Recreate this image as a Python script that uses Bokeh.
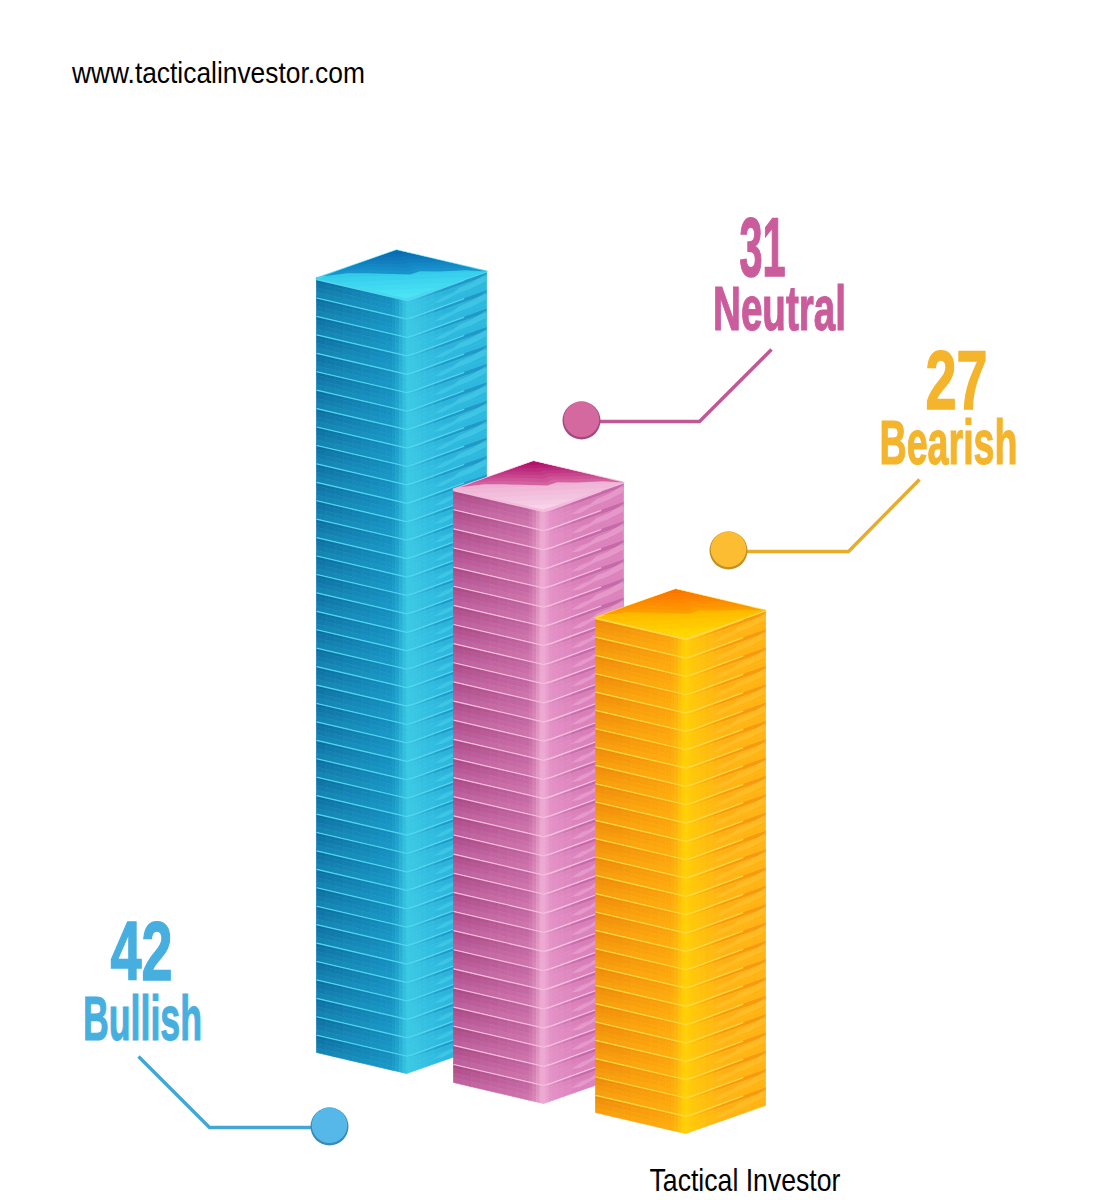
from bokeh.plotting import figure, curdoc
from bokeh.embed import file_html
from bokeh.resources import INLINE
from bokeh.core.properties import value
from bokeh.models import CustomJS

# ---- data ----
categories = ["Bullish", "Neutral", "Bearish"]
values = [42, 31, 27]
source_label = "www.tacticalinvestor.com"
credit_label = "Tactical Investor"

# ---- layout (reference pixel space) ----
W, H = 1101, 1200
BAR_LEFT = [316, 453, 595]
BAR_BOTTOM = [1052, 1082, 1112]
LAYER_H = [18.43, 19.13, 18.33]
D_FRONT = (90, 21)      # left corner -> front corner
D_BACK = (80, -28)      # left corner -> back corner

PAL = {
    "Bullish": dict(lt="#0c6a9c", lb="#1586b4", mt="#138cbe", mb="#1a9ac8", c="#38c8e4", dk="#085a8a",
                    rn="#3ccbe6", rft="#1a8cbe", rfb="#2db8de", wisp="#4ccfe9", lip="#4fd6ee",
                    back="#0a6ab2", mid="#1894cc", f1="#34cbea", f2="#4ae4f6", text="#47afe0", dot="#55b8e8"),
    "Neutral": dict(lt="#a8457f", lb="#c061a0", mt="#bf619e", mb="#d077ae", c="#f2b4d8", dk="#8a2a68",
                    rn="#e596c9", rft="#bb5ea0", rfb="#dc82bc", wisp="#ecacd6", lip="#f4bcdc",
                    back="#b00f6b", mid="#d4629f", f1="#eeb0d4", f2="#f7d2e8", text="#cb5c9b", dot="#d4699f"),
    "Bearish": dict(lt="#ec860a", lb="#f8a00e", mt="#fa9f0c", mb="#ffae0e", c="#ffd406", dk="#d56f04",
                    rn="#ffcc08", rft="#f4900c", rfb="#ffb414", wisp="#ffc433", lip="#ffd83f",
                    back="#fb7400", mid="#ff9c00", f1="#ffb800", f2="#ffd800", text="#f4b42c", dot="#fdbd33"),
}
WAVE = [(.04, -2), (.18, -4), (.30, -3), (.40, -2), (.55, 0), (.61, -3), (.72, -2), (.88, -2)]
WISP = [(.34, .70), (.48, .54), (.58, .54), (.66, .36), (.82, .32), (1, .12), (1, .5), (.8, .64), (.62, .66), (.46, .80)]

VALUE_FONT_PX, LABEL_FONT_PX, NOTE_FONT_PX = 84, 63, 29
CALLOUTS = {
    "Bullish": dict(dot=(329, 1126), xs=[329, 209, 138], ys=[1127, 1127, 1056],
                    vx=141, vy=950, lx=142, ly=1018),
    "Neutral": dict(dot=(581, 420), xs=[581, 699, 771], ys=[421, 421, 349],
                    vx=762, vy=246, lx=779, ly=308),
    "Bearish": dict(dot=(728, 550), xs=[728, 848, 919], ys=[551, 551, 479],
                    vx=956, vy=379, lx=948, ly=441),
}
# rendered width of each text in the picture (the lettering is condensed)
TEXT_W = {"42": (62, 1.6), "31": (46, 1.6), "27": (62, 1.6),
          "Bullish": (119, 1.2), "Neutral": (133, 1.2), "Bearish": (138, 1.2),
          source_label: (294, 0), credit_label: (191, 0)}


def rgb(c):
    return [int(c[i:i + 2], 16) for i in (1, 3, 5)]


def mix(a, b, t):
    A, B = rgb(a), rgb(b)
    return "#%02x%02x%02x" % tuple(round(A[i] + (B[i] - A[i]) * t) for i in range(3))


p = figure(width=W, height=H, x_range=(0, W), y_range=(H, 0),
           output_backend="svg", toolbar_location=None, min_border=0,
           background_fill_color="white", border_fill_color="white", outline_line_color=None)
p.xaxis.visible = False
p.yaxis.visible = False
p.grid.visible = False

VS = [0, .25, .5, .75, 1]
LEFT_US = [0, .1, .2, .3, .4, .5, .6, .7, .78, .84, .88, .92, .96, 1]
RIGHT_US = [0, .03, .07, .12, .18, .25, .35, .45, .6, .8, 1]

for k, cat in enumerate(categories):
    pal = PAL[cat]
    n = values[k]
    h = LAYER_H[k]
    lx, by = BAR_LEFT[k], BAR_BOTTOM[k]

    for i in range(n):
        y0 = by - (i + 1) * h   # top of this slab at the left corner
        L = (lx, y0)
        F = (lx + D_FRONT[0], y0 + D_FRONT[1])
        R = (F[0] + D_BACK[0], F[1] + D_BACK[1])

        def pt(A, B, u, v):
            return (A[0] + (B[0] - A[0]) * u, A[1] + (B[1] - A[1]) * u + v * h)

        xs, ys, cols = [], [], []

        def add(q, col):
            xs.append([a for a, _ in q])
            ys.append([b for _, b in q])
            cols.append(col)

        for a in range(len(LEFT_US) - 1):
            for b in range(len(VS) - 1):
                u, v = (LEFT_US[a] + LEFT_US[a + 1]) / 2, (VS[b] + VS[b + 1]) / 2
                top = mix(pal["lt"], pal["mt"], min(u / .82, 1))
                bot = mix(pal["lb"], pal["mb"], min(u / .82, 1))
                col = mix(top, bot, v)
                if u > .82:
                    col = mix(col, pal["c"], ((u - .82) / .18) ** 1.5)
                add([pt(L, F, LEFT_US[a], VS[b]), pt(L, F, LEFT_US[a + 1], VS[b]),
                     pt(L, F, LEFT_US[a + 1], VS[b + 1]), pt(L, F, LEFT_US[a], VS[b + 1])], col)
        for a in range(len(RIGHT_US) - 1):
            for b in range(len(VS) - 1):
                u, v = (RIGHT_US[a] + RIGHT_US[a + 1]) / 2, (VS[b] + VS[b + 1]) / 2
                far = mix(pal["rft"], pal["rfb"], min(v * 2.4, 1))
                col = mix(pal["rn"], far, min(u * 2.2, 1))
                if u < .1:
                    col = mix(col, pal["c"], .7 * (1 - u / .1))
                add([pt(F, R, RIGHT_US[a], VS[b]), pt(F, R, RIGHT_US[a + 1], VS[b]),
                     pt(F, R, RIGHT_US[a + 1], VS[b + 1]), pt(F, R, RIGHT_US[a], VS[b + 1])], col)
        p.patches(xs, ys, fill_color=cols, line_color=cols, line_width=.7)

        wisp = [pt(F, R, u, v) for u, v in WISP]
        p.patch([q[0] for q in wisp], [q[1] for q in wisp], fill_color=pal["wisp"], fill_alpha=.55, line_color=None)
        # shadow just above this slab's lip, then the lip itself
        if i > -1:
            p.line([L[0], F[0] - 8], [L[1] - .9, F[1] - 2.9], line_color=pal["dk"], line_width=1.5, line_alpha=.7)
        M = pt(F, R, .72, 0)
        p.line([L[0], F[0] - 7, F[0], F[0] + 7, M[0]],
               [L[1] + .9, F[1] - .8, F[1] + .9, F[1] - .8, M[1] + .7],
               line_color=pal["lip"], line_width=1.7, line_join="round")

    # top face
    y0 = by - n * h
    L = (lx, y0)
    A = (lx + D_BACK[0], y0 + D_BACK[1])
    F = (lx + D_FRONT[0], y0 + D_FRONT[1])
    R = (F[0] + D_BACK[0], F[1] + D_BACK[1])
    p.patch([L[0], A[0], R[0], F[0]], [L[1], A[1], R[1], F[1]],
            fill_color=pal["f1"], line_color=pal["lip"], line_width=2, line_join="round")
    steps = 5
    for s in range(steps):
        t = (s + 1) / steps
        sc = 1 - s / steps
        c = (F[0], F[1] - 1)
        q0 = (c[0] + (L[0] - c[0]) * sc, c[1] + (L[1] - c[1]) * sc)
        q1 = (c[0] + (R[0] - c[0]) * sc, c[1] + (R[1] - c[1]) * sc)
        p.patch([q0[0], q1[0], c[0]], [q0[1], q1[1], c[1]],
                fill_color=mix(pal["f1"], pal["f2"], t), line_color=None)
    edge = [L] + [(L[0] + (R[0] - L[0]) * f, L[1] + (R[1] - L[1]) * f + d) for f, d in WAVE] + [R]
    for s in range(7):
        sc = 1 - s / 7
        t = s / 6
        poly = [(A[0] + (q[0] - A[0]) * sc, A[1] + (q[1] - A[1]) * sc) for q in edge]
        p.patch([A[0]] + [q[0] for q in poly], [A[1]] + [q[1] for q in poly],
                fill_color=mix(pal["mid"], pal["back"], t), line_color=None)

# callouts
for cat, val in zip(categories, values):
    pal, c = PAL[cat], CALLOUTS[cat]
    p.line(c["xs"], c["ys"], line_color=mix(pal["text"], "#000000", .05), line_width=3.4, line_join="miter")
    p.scatter([c["dot"][0]], [c["dot"][1]], size=38, fill_color=mix(pal["text"], "#000000", .2), line_color=None)
    p.scatter([c["dot"][0]], [c["dot"][1] - 1.2], size=35.5, fill_color=pal["dot"], line_color=None)
    p.text([c["vx"]], [c["vy"]], text=[str(val)], text_font=value("Liberation Sans"),
           text_font_style="bold", text_font_size=f"{VALUE_FONT_PX}px", text_align="center",
           text_baseline="alphabetic", text_color=pal["text"])
    p.text([c["lx"]], [c["ly"]], text=[cat], text_font=value("Liberation Sans"),
           text_font_style="bold", text_font_size=f"{LABEL_FONT_PX}px", text_align="center",
           text_baseline="alphabetic", text_color=pal["text"])

p.text([218], [72], text=[source_label], text_font=value("Liberation Sans"), text_font_size=f"{NOTE_FONT_PX}px",
       text_align="center", text_baseline="alphabetic", text_color="#000000")
p.text([744.5], [1180], text=[credit_label], text_font=value("Liberation Sans"), text_font_size=f"{NOTE_FONT_PX + 2}px",
       text_align="center", text_baseline="alphabetic", text_color="#000000")

# narrow the lettering horizontally: the picture's type is a condensed face no installed font offers
narrow = CustomJS(args=dict(targets={k: list(v) for k, v in TEXT_W.items()}), code="""
function collect(root, out) {
  root.querySelectorAll('*').forEach(e => {
    if (e.tagName === 'text') out.push(e);
    if (e.shadowRoot) collect(e.shadowRoot, out);
  });
}
function apply() {
  const out = [];
  collect(document, out);
  for (const el of out) {
    const t = targets[el.textContent];
    if (!t || el.getAttribute('data-narrow')) continue;
    const r = el.getBoundingClientRect();
    if (!r.width) continue;
    const s = el.ownerSVGElement.getBoundingClientRect();
    const cx = r.left + r.width / 2 - s.left;
    const k = t[0] / r.width;
    const old = el.getAttribute('transform') || '';
    el.setAttribute('transform', `translate(${cx},0) scale(${k},1) translate(${-cx},0) ${old}`);
    if (t[1] > 0) {
      el.style.stroke = getComputedStyle(el).fill;
      el.style.strokeWidth = t[1] + 'px';
    }
    el.setAttribute('data-narrow', '1');
  }
}
apply();
let n = 0;
const h = setInterval(() => { apply(); if (++n > 40) clearInterval(h); }, 50);
""")
doc = curdoc()
doc.add_root(p)
doc.js_on_event("document_ready", narrow)

open("out.html", "w").write(file_html(p, INLINE))
